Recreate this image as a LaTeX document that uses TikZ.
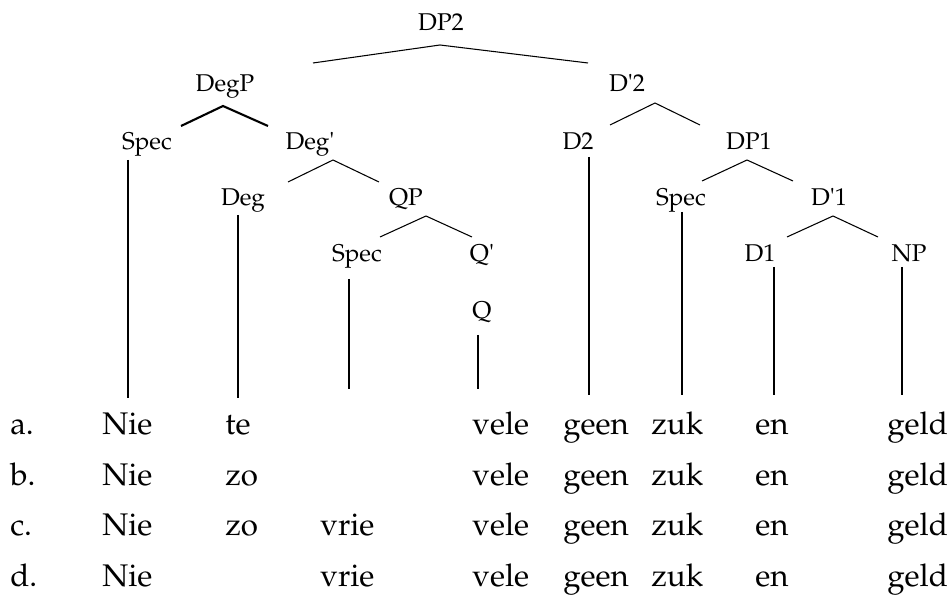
\documentclass[tikz,border=0pt]{standalone}
\usepackage[T1]{fontenc}
\usepackage{mathpazo}
\usepackage{tikz}
\usetikzlibrary{calc}

\begin{document}
\begin{tikzpicture}[
  x=0.02cm, y=-0.02cm,
  lbl/.style={anchor=base, inner sep=0pt, font=\fontsize{13.8}{16}\selectfont},
  word/.style={anchor=base west, inner sep=0pt, font=\fontsize{17.8}{20}\selectfont},
  arm/.style={line width=0.6pt},
  boldarm/.style={line width=1.2pt}
]
\useasboundingbox (0,0) rectangle (948,597);

% Tree labels
\node[lbl] (dp2) at (441,31) {DP2};
\node[lbl] (degp) at (225,92) {DegP};
\node[lbl] (dbar2) at (627,92) {D\textquotesingle 2};
\node[lbl] (specL) at (147,150) {Spec};
\node[lbl] (degbar) at (310,150) {Deg\textquotesingle};
\node[lbl] (d2) at (578,150) {D2};
\node[lbl] (dp1) at (749,150) {DP1};
\node[lbl] (deg) at (243,206) {Deg};
\node[lbl] (qp) at (406,206) {QP};
\node[lbl] (specR) at (681,206) {Spec};
\node[lbl] (dbar1) at (829,206) {D\textquotesingle 1};
\node[lbl] (specQ) at (357,262) {Spec};
\node[lbl] (qbar) at (482,262) {Q\textquotesingle};
\node[lbl] (d1) at (760,262) {D1};
\node[lbl] (np) at (909,262) {NP};
\node[lbl] (q) at (482,319) {Q};

% Branches
\draw[arm] ($(dp2.base)+(-128,32)$) -- ($(dp2.base)+(-1,14)$) -- ($(dp2.base)+(147,32)$);
\draw[boldarm] ($(degp.base)+(-44,34)$) -- ($(degp.base)+(-2,14)$) -- ($(degp.base)+(43,34)$);
\draw[arm] ($(degbar.base)+(-22,32)$) -- ($(degbar.base)+(23,10)$) -- ($(degbar.base)+(69,32)$);
\draw[arm] ($(qp.base)+(-26,31)$) -- ($(qp.base)+(20,10)$) -- ($(qp.base)+(66,31)$);
\draw[arm] ($(dbar2.base)+(-17,33)$) -- ($(dbar2.base)+(28,11)$) -- ($(dbar2.base)+(73,33)$);
\draw[arm] ($(dp1.base)+(-47,31)$) -- ($(dp1.base)+(-2,10)$) -- ($(dp1.base)+(44,31)$);
\draw[arm] ($(dbar1.base)+(-42,31)$) -- ($(dbar1.base)+(4,10)$) -- ($(dbar1.base)+(49,31)$);

% Example rows
\node[word] (la) at (10,435) {a.};
\node[word] (nieA) at (102,435) {Nie};
\node[word] (teA) at (225,435) {te};
\node[word] (veleA) at (472,435) {vele};
\node[word] (geenA) at (563,435) {geen};
\node[word] (zukA) at (651,435) {zuk};
\node[word] (enA) at (755,435) {en};
\node[word] (geldA) at (887,435) {geld};

\node[word] (lb) at (10,485.5) {b.};
\node[word] (nieB) at (102,485.5) {Nie};
\node[word] (zoB) at (225,485.5) {zo};
\node[word] (veleB) at (472,485.5) {vele};
\node[word] (geenB) at (563,485.5) {geen};
\node[word] (zukB) at (651,485.5) {zuk};
\node[word] (enB) at (755,485.5) {en};
\node[word] (geldB) at (887,485.5) {geld};

\node[word] (lc) at (10,536) {c.};
\node[word] (nieC) at (102,536) {Nie};
\node[word] (zoC) at (225,536) {zo};
\node[word] (vrieC) at (320,536) {vrie};
\node[word] (veleC) at (472,536) {vele};
\node[word] (geenC) at (563,536) {geen};
\node[word] (zukC) at (651,536) {zuk};
\node[word] (enC) at (755,536) {en};
\node[word] (geldC) at (887,536) {geld};

\node[word] (ld) at (10,586.5) {d.};
\node[word] (nieD) at (102,586.5) {Nie};
\node[word] (vrieD) at (320,586.5) {vrie};
\node[word] (veleD) at (472,586.5) {vele};
\node[word] (geenD) at (563,586.5) {geen};
\node[word] (zukD) at (651,586.5) {zuk};
\node[word] (enD) at (755,586.5) {en};
\node[word] (geldD) at (887,586.5) {geld};

% Leaves down to the words
\draw[arm] ($(specL.base)+(-19,10)$) -- ($(nieA.base west)+(26,-37)$);
\draw[arm] ($(deg.base)+(-5,9)$) -- ($(teA.base west)+(13,-37)$);
\draw[arm] ($(specQ.base)+(-8,17)$) -- ($(vrieC.base west)+(29,-147)$);
\draw[arm] ($(q.base)+(-4,16)$) -- ($(veleA.base west)+(6,-46)$);
\draw[arm] ($(d2.base)+(11,7)$) -- ($(geenA.base west)+(26,-40)$);
\draw[arm] ($(specR.base)+(1,6)$) -- ($(zukA.base west)+(31,-40)$);
\draw[arm] ($(d1.base)+(14,5)$) -- ($(enA.base west)+(19,-40)$);
\draw[arm] ($(np.base)+(-7,5)$) -- ($(geldA.base west)+(15,-40)$);

\end{tikzpicture}
\end{document}
